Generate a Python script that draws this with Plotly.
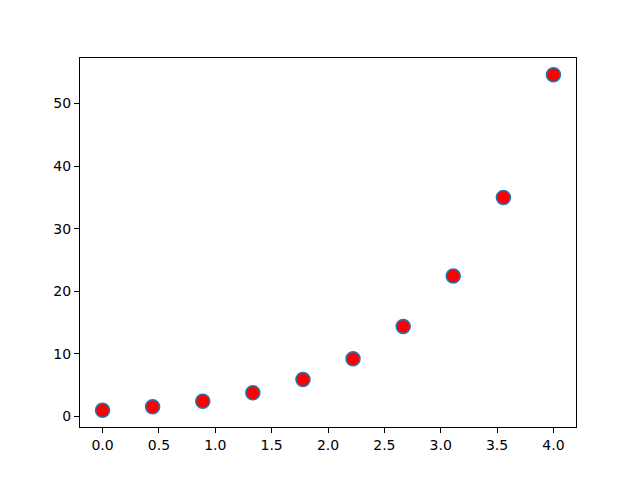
import plotly.graph_objects as go

x_values = [0.0, 0.444, 0.889, 1.333, 1.778, 2.222, 2.667, 3.111, 3.556, 4.0]
y_values = [1.0, 1.56, 2.43, 3.79, 5.92, 9.23, 14.39, 22.45, 35.0, 54.6]
x_ticks = [0.0, 0.5, 1.0, 1.5, 2.0, 2.5, 3.0, 3.5, 4.0]
x_tick_labels = ["0.0", "0.5", "1.0", "1.5", "2.0", "2.5", "3.0", "3.5", "4.0"]
y_ticks = [0, 10, 20, 30, 40, 50]

fig = go.Figure(go.Scatter(
    x=x_values, y=y_values, mode="markers",
    marker=dict(size=14, color="red", line=dict(color="#1f77b4", width=1.5)),
))

axis_common = dict(
    showgrid=False, zeroline=False, showline=True, linecolor="black", linewidth=1,
    mirror=True, ticks="outside", ticklen=5, tickwidth=1, tickcolor="black",
    tickfont=dict(family="DejaVu Sans", size=14, color="black"),
)
fig.update_xaxes(range=[-0.2, 4.2], tickvals=x_ticks, ticktext=x_tick_labels, **axis_common)
fig.update_yaxes(range=[-1.68, 57.28], tickvals=y_ticks, **axis_common)

fig.update_layout(
    width=624, height=464, showlegend=False,
    paper_bgcolor="white", plot_bgcolor="white",
    margin=dict(l=72, r=56, t=50, b=45, autoexpand=False),
)

fig.write_html("out.html")
